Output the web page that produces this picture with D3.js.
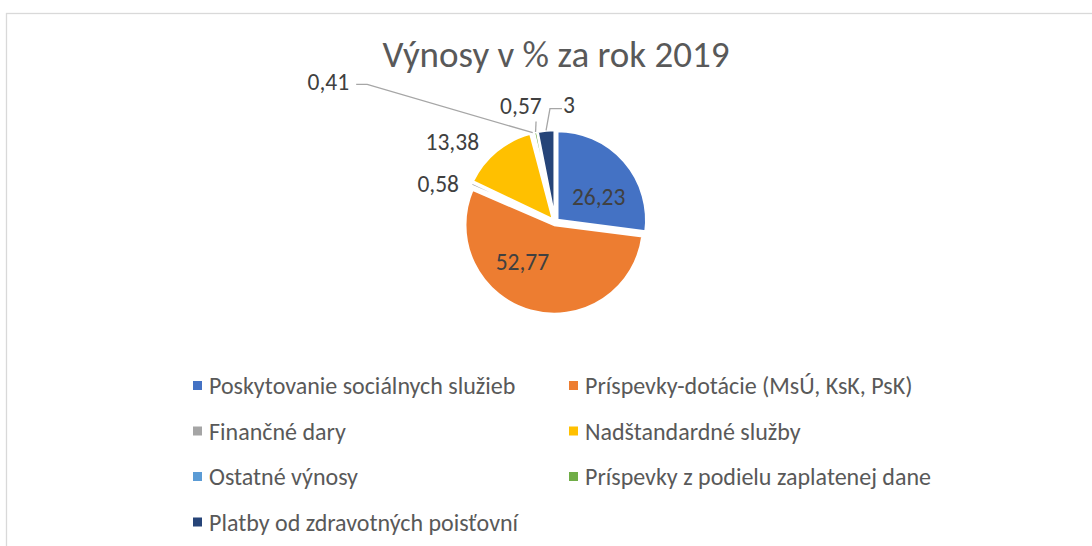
<!DOCTYPE html>
<html>
<head>
<meta charset="utf-8">
<script src="https://cdn.jsdelivr.net/npm/d3@7"></script>
<style>
  html, body { margin: 0; padding: 0; background: #fff; overflow: hidden; }
  svg { display: block; font-family: Carlito, Calibri, "Open Sans", sans-serif; }
</style>
</head>
<body>
<div id="chart"></div>
<script>
const categories = [
    'Poskytovanie sociálnych služieb',
    'Príspevky-dotácie (MsÚ, KsK, PsK)',
    'Finančné dary',
    'Nadštandardné služby',
    'Ostatné výnosy',
    'Príspevky z podielu zaplatenej dane',
    'Platby od zdravotných poisťovní'
];
const values = [26.23, 52.77, 0.58, 13.38, 0.41, 0.57, 3];
const valueLabels = ['26,23', '52,77', '0,58', '13,38', '0,41', '0,57', '3'];
const colors = ['#4472C4', '#ED7D31', '#A5A5A5', '#FFC000', '#5B9BD5', '#70AD47', '#264478'];

const width = 1092, height = 546;
const cx = 555, cy = 222, r = 89, explode = 3;

// label placement: inside slices or outside with a nudge (Excel "best fit" look)
const labelPlace = [
    { inside: true, dx: 8, dy: 6 },
    { inside: true, dx: -20, dy: -6 },
    { inside: false, dx: -13, dy: 9 },
    { inside: false, dx: -30, dy: 8 },
    { inside: false, dx: -199, dy: -29, leader: 'left' },
    { inside: false, dx: -10, dy: -5, leader: 'up' },
    { inside: false, dx: 25, dy: -4, leader: 'right' }
];

const svg = d3.select('#chart').append('svg')
    .attr('width', width)
    .attr('height', height);

// chart area border (runs off the right and bottom)
svg.append('rect')
    .attr('x', 6.5).attr('y', 13.5)
    .attr('width', width + 20).attr('height', height + 20)
    .attr('fill', 'none')
    .attr('stroke', '#d9d9d9')
    .attr('stroke-width', 1.3);

svg.append('text')
    .attr('x', 556).attr('y', 67)
    .attr('text-anchor', 'middle')
    .attr('fill', '#595959')
    .style('font-size', '37px')
    .text('Výnosy v % za rok 2019');

const data = categories.map((c, i) => ({ name: c, value: values[i], label: valueLabels[i], color: colors[i], place: labelPlace[i] }));

const pie = d3.pie().sort(null).value(d => d.value);
const arcs = pie(data);
const arc = d3.arc().innerRadius(0).outerRadius(r);
const outer = d3.arc().innerRadius(r + 22).outerRadius(r + 22);
const edge = d3.arc().innerRadius(r).outerRadius(r);

const offset = d => {
    const a = (d.startAngle + d.endAngle) / 2;
    return [explode * Math.sin(a), -explode * Math.cos(a)];
};

const g = svg.append('g').attr('transform', `translate(${cx},${cy})`);

g.selectAll('.slice')
    .data(arcs)
    .enter()
    .append('path')
    .attr('class', 'slice')
    .attr('transform', d => `translate(${offset(d)})`)
    .attr('d', arc)
    .attr('fill', d => d.data.color)
    .attr('stroke', '#fff')
    .attr('stroke-width', 2.5)
    .attr('stroke-linejoin', 'round');

const labels = g.selectAll('.lbl')
    .data(arcs)
    .enter()
    .append('text')
    .attr('class', 'lbl')
    .attr('text-anchor', 'middle')
    .attr('dominant-baseline', 'central')
    .attr('fill', '#404040')
    .style('font-size', '23.5px')
    .each(function(d) {
        const p = d.data.place;
        const c = p.inside ? arc.centroid(d) : outer.centroid(d);
        const o = offset(d);
        d.lx = c[0] + o[0] + p.dx;
        d.ly = c[1] + o[1] + p.dy;
    })
    .attr('x', d => d.lx)
    .attr('y', d => d.ly)
    .text(d => d.data.label);

// leader lines for the tiny slices
labels.each(function(d) {
    const p = d.data.place;
    if (!p.leader) return;
    const bb = this.getBBox();
    const e = edge.centroid(d);
    const o = offset(d);
    const start = [e[0] + o[0], e[1] + o[1]];
    let pts;
    if (p.leader === 'left') {
        const end = [bb.x + bb.width + 7, d.ly + 2];
        pts = [start, [end[0] + 11, end[1]], end];
    } else if (p.leader === 'right') {
        const end = [bb.x - 1, d.ly + 4];
        pts = [start, [end[0] - 12, end[1]], end];
    } else {
        pts = [start, [start[0] + 0.5, bb.y + bb.height + 2]];
    }
    g.append('path')
        .attr('d', d3.line()(pts))
        .attr('fill', 'none')
        .attr('stroke', '#a6a6a6')
        .attr('stroke-width', 1.3);
});

// legend
const legend = svg.append('g');
const colX = d3.scalePoint().domain([0, 1]).range([193, 569]);
const rowY = d3.scaleLinear().domain([0, 1]).range([385.5, 431]);

const item = legend.selectAll('.item')
    .data(data)
    .enter()
    .append('g')
    .attr('class', 'item')
    .attr('transform', (d, i) => `translate(${colX(i % 2)},${rowY(Math.floor(i / 2))})`);

item.append('rect')
    .attr('x', 0).attr('y', -4.5)
    .attr('width', 9).attr('height', 9)
    .attr('fill', d => d.color);

item.append('text')
    .attr('x', 16)
    .attr('dominant-baseline', 'central')
    .attr('fill', '#595959')
    .style('font-size', '24px')
    .text(d => d.name);
</script>
</body>
</html>
